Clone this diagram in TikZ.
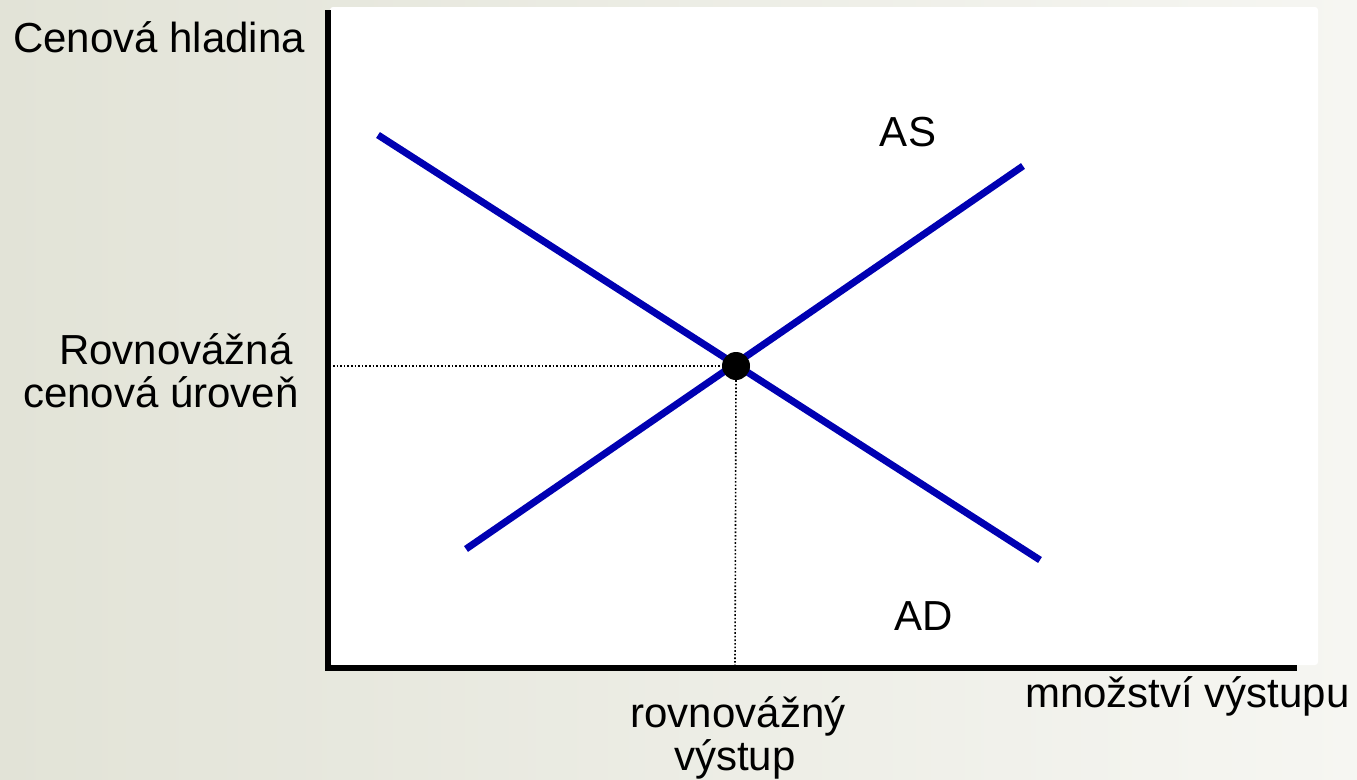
\documentclass[tikz,border=0pt]{standalone}
\usepackage{fontspec}
\setmainfont{Liberation Sans}
\definecolor{bgleft}{RGB}{226,227,215}
\definecolor{bgright}{RGB}{246,246,242}
\definecolor{curve}{RGB}{0,0,178}
\tikzset{
  lbl/.style={font=\fontsize{42}{50}\selectfont, inner sep=0pt, text=black},
  curveline/.style={draw=curve, line width=7pt},
  axisline/.style={draw=black, line width=5.5pt},
  guide/.style={draw=black, line width=1.6pt, dotted}
}
\begin{document}
\begin{tikzpicture}[x=1pt,y=-1pt]
\useasboundingbox (0,0) rectangle (1357,779);
\shade[left color=bgleft, right color=bgright] (0,0) rectangle (1357,779);
\fill[white, rounded corners=3pt] (330,7) rectangle (1318,665);
% coordinates
\coordinate (ytop) at (328,10);
\coordinate (origin) at (328,668);
\coordinate (xend) at (1297,668);
\coordinate (ad1) at (378,135);
\coordinate (ad2) at (1040,560);
\coordinate (as1) at (466,549);
\coordinate (as2) at (1023,166);
\coordinate (yhit) at (333,366);
\coordinate (xhit) at (735,665);
% axes
\draw[axisline] (ytop) -- (origin) -- (xend);
% curves
\draw[curveline] (ad1) -- (ad2);
\draw[curveline] (as1) -- (as2);
\node[circle, fill=black, minimum size=28pt, inner sep=0pt] (eq) at (736,366) {};
% guides
\draw[guide] (yhit) -- (eq.west);
\draw[guide] (eq.south) -- (xhit);
% labels
\node[lbl, anchor=base west] (ylab) at (13,52) {Cenová hladina};
\node[lbl, anchor=base] (aslab) at (908,146) {AS};
\node[lbl, anchor=base] (adlab) at (924,630) {AD};
\node[lbl, anchor=base] (pe1) at (176,364) {Rovnovážná};
\node[lbl, anchor=base] (pe2) at (161,407) {cenová úroveň};
\node[lbl, anchor=base] (qe1) at (738,727) {rovnovážný};
\node[lbl, anchor=base] (qe2) at (735,770) {výstup};
\node[lbl, anchor=base west] (xlab) at (1025,707) {množství výstupu};
\end{tikzpicture}
\end{document}
